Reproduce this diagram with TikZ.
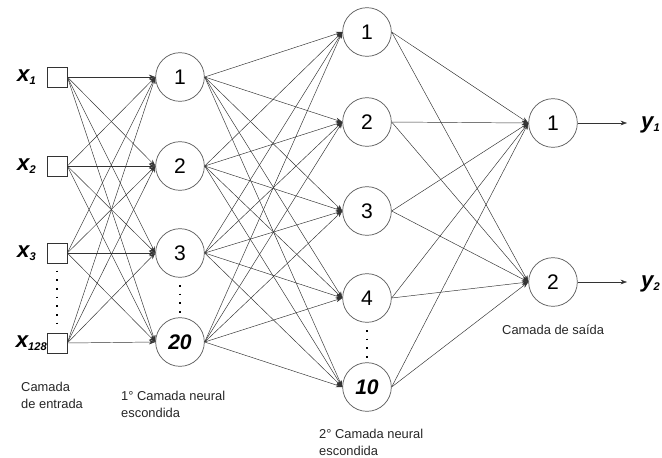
\documentclass[tikz,border=0pt]{standalone}
\usepackage{fontspec}
\setmainfont{Liberation Sans}
\usetikzlibrary{arrows.meta}

\newcommand{\sinal}[2]{{\fontsize{19}{19}\selectfont\bfseries\itshape #1}\raisebox{-0.5ex}{\fontsize{9.5}{9.5}\selectfont\bfseries\itshape #2}}

\tikzset{
  neuron/.style={circle,draw=black!65,line width=0.6pt,minimum size=14.6mm,inner sep=0pt,font=\fontsize{18}{18}\selectfont},
  entrada/.style={rectangle,draw=black!80,line width=0.6pt,minimum size=6mm,inner sep=0pt},
  syn/.style={draw=black!80,line width=0.4pt,-{Stealth[length=5.5pt,width=4pt]}},
  pontos/.style={line width=1.4pt,dash pattern=on 1.4pt off 6pt,shorten <=2.2mm,shorten >=1.4mm},
  rotulo/.style={align=left,inner sep=0pt,anchor=west,font=\fontsize{11}{14.5}\selectfont,text=black!85}
}

\begin{document}
\begin{tikzpicture}[x=0.3mm,y=-0.3mm]
  \useasboundingbox (0,0) rectangle (662,457);
  % camada de entrada
  \node[entrada] (i1) at (57,77) {};
  \node[entrada] (i2) at (57,166) {};
  \node[entrada] (i3) at (57,253) {};
  \node[entrada] (i4) at (57,343) {};
  \node[inner sep=0pt,anchor=west] (l1) at (17,77) {\sinal{x}{1}};
  \node[inner sep=0pt,anchor=west] (l2) at (17,166) {\sinal{x}{2}};
  \node[inner sep=0pt,anchor=west] (l3) at (17,253) {\sinal{x}{3}};
  \node[inner sep=0pt,anchor=east] (l4) at (47,343) {\sinal{x}{128}};
  % 1a camada escondida
  \node[neuron] (a1) at (180,77) {1};
  \node[neuron] (a2) at (180,166) {2};
  \node[neuron] (a3) at (180,253) {3};
  \node[neuron] (a4) at (180,342) {\bfseries\itshape 20};
  % 2a camada escondida
  \node[neuron] (b1) at (367,32) {1};
  \node[neuron] (b2) at (367,122) {2};
  \node[neuron] (b3) at (367,211) {3};
  \node[neuron] (b4) at (367,298) {4};
  \node[neuron] (b5) at (367,387) {\bfseries\itshape 10};
  % camada de saida
  \node[neuron] (c1) at (553,123) {1};
  \node[neuron] (c2) at (553,282) {2};
  \coordinate (o1) at (627,123);
  \coordinate (o2) at (627,282);
  \node[inner sep=0pt,anchor=west] (y1) at (641,125) {\sinal{y}{1}};
  \node[inner sep=0pt,anchor=west] (y2) at (641,284) {\sinal{y}{2}};

  \foreach \i in {1,...,4}
    \foreach \j in {1,...,4}
      \draw[syn] (i\i.east) -- (a\j.west);
  \foreach \i in {1,...,4}
    \foreach \j in {1,...,5}
      \draw[syn] (a\i.east) -- (b\j.west);
  \foreach \i in {1,...,5}
    \foreach \j in {1,2}
      \draw[syn] (b\i.east) -- (c\j.west);
  \draw[syn] (c1) -- (o1);
  \draw[syn] (c2) -- (o2);

  \draw[pontos] (i3.south) -- (i4.north);
  \draw[pontos] (a3.south) -- (a4.north);
  \draw[pontos] (b4.south) -- (b5.north);

  \node[rotulo] (t1) at (21,395) {Camada\\de entrada};
  \node[rotulo] (t2) at (121,404) {1° Camada neural\\escondida};
  \node[rotulo] (t3) at (319,442) {2° Camada neural\\escondida};
  \node[rotulo] (t4) at (502,330) {Camada de saída};
\end{tikzpicture}
\end{document}
